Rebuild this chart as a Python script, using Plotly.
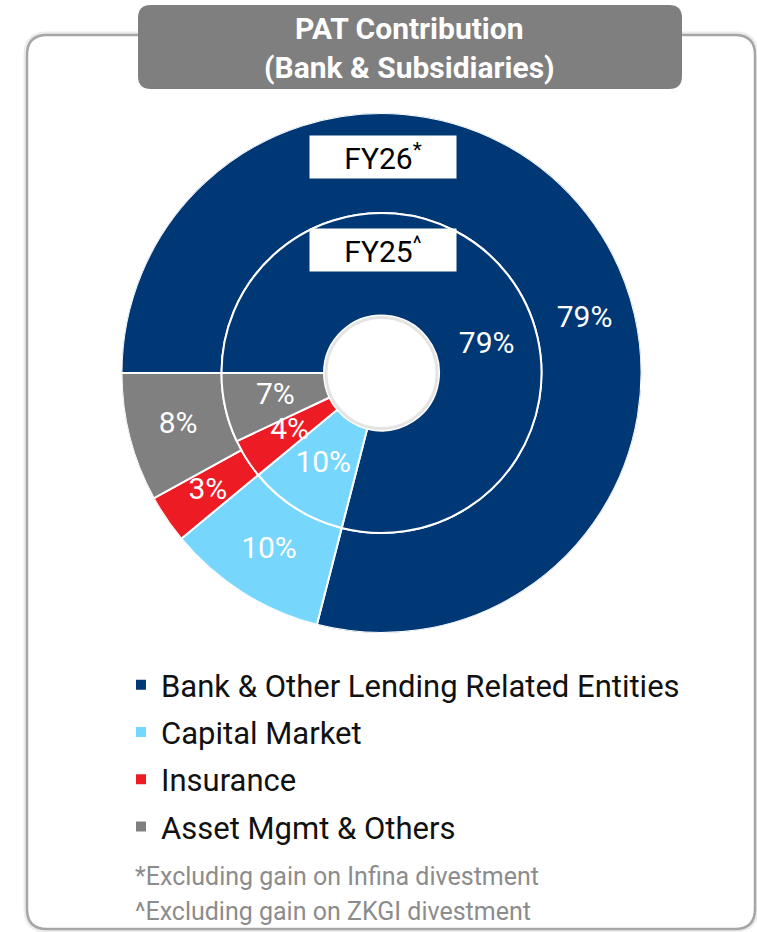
"""PAT contribution nested donut (FY26 outer, FY25 inner)."""

import plotly.graph_objects as go

W, H = 757, 932

categories = [
    "Bank & Other Lending Related Entities",
    "Capital Market",
    "Insurance",
    "Asset Mgmt & Others",
]
fy26_share = [79, 10, 3, 8]
fy25_share = [79, 10, 4, 7]
ring_labels = ["FY26<sup>*</sup>", "FY25<sup>^</sup>"]
footnotes = [
    "*Excluding gain on Infina divestment",
    "^Excluding gain on ZKGI divestment",
]

COLORS = ["#003876", "#76d6fc", "#ed1c24", "#808080"]
FONT = "Roboto"

# donut geometry in px
CX, CY = 381.5, 373
R_OUT, R_MID, R_HOLE = 260, 160, 57.5
START = 270       # first slice starts at 9 o'clock, going clockwise
BANK_NUDGE = 23   # bank % labels sit right of the FY boxes


def px(x):
    return x / W


def py(y):
    return 1 - y / H


def rounded_rect(x0, y0, x1, y1, r):
    pts = [
        f"M{px(x0 + r)},{py(y0)}", f"L{px(x1 - r)},{py(y0)}",
        f"Q{px(x1)},{py(y0)} {px(x1)},{py(y0 + r)}", f"L{px(x1)},{py(y1 - r)}",
        f"Q{px(x1)},{py(y1)} {px(x1 - r)},{py(y1)}", f"L{px(x0 + r)},{py(y1)}",
        f"Q{px(x0)},{py(y1)} {px(x0)},{py(y1 - r)}", f"L{px(x0)},{py(y0 + r)}",
        f"Q{px(x0)},{py(y0)} {px(x0 + r)},{py(y0)}", "Z",
    ]
    return " ".join(pts)


def slices(shares):
    mids, widths = [], []
    acc = START
    for s in shares:
        w = s * 3.6
        mids.append((acc + w / 2) % 360)
        widths.append(w)
        acc += w
    return mids, widths


out_mid, out_w = slices(fy26_share)
in_mid, in_w = slices(fy25_share)

hole = R_HOLE / R_OUT
ring = R_MID / R_OUT

fig = go.Figure()

for i, cat in enumerate(categories):
    fig.add_trace(go.Barpolar(
        r=[1 - ring, ring - hole],
        base=[ring, hole],
        theta=[out_mid[i], in_mid[i]],
        width=[out_w[i], in_w[i]],
        marker=dict(color=COLORS[i], line=dict(color="white", width=2)),
        name=cat,
        legendgroup=cat,
        hoverinfo="skip",
    ))

# percentage labels
lab_r, lab_t, lab_txt = [], [], []
for shares, mids, r in [(fy26_share, out_mid, (1 + ring) / 2),
                        (fy25_share, in_mid, (ring + hole) / 2)]:
    for i, s in enumerate(shares):
        lab_r.append(r)
        lab_t.append(mids[i] + (BANK_NUDGE if i == 0 else 0))
        lab_txt.append(f"{s}%")

fig.add_trace(go.Scatterpolar(
    r=lab_r, theta=lab_t, text=lab_txt, mode="text",
    textfont=dict(family=FONT, size=30, color="white"),
    showlegend=False, hoverinfo="skip",
))

shapes = [
    # card border with soft shadow
    dict(type="path", path=rounded_rect(27, 35, 755, 929, 20), xref="paper", yref="paper",
         line=dict(color="#ececec", width=7), layer="below"),
    dict(type="path", path=rounded_rect(27, 35, 755, 929, 20), xref="paper", yref="paper",
         line=dict(color="#a6a6a6", width=2.5), fillcolor="white", layer="below"),
    # title box
    dict(type="path", path=rounded_rect(138, 5, 682, 89, 13), xref="paper", yref="paper",
         line=dict(width=0), fillcolor="#7f7f7f"),
    # hole shading
    dict(type="circle", xref="paper", yref="paper",
         x0=px(CX - R_HOLE + 2), x1=px(CX + R_HOLE - 2),
         y0=py(CY + R_HOLE - 2), y1=py(CY - R_HOLE + 2),
         line=dict(color="#e4e4e4", width=3)),
]

annotations = [
    dict(text="<b>PAT Contribution<br>(Bank &amp; Subsidiaries)</b>", x=px(410), y=py(48),
         xref="paper", yref="paper", showarrow=False, xanchor="center", yanchor="middle",
         font=dict(family=FONT, size=30, color="white")),
]
for lbl, yc in zip(ring_labels, [157, 250]):
    annotations.append(dict(
        text=lbl, x=px(CX + 1), y=py(yc), xref="paper", yref="paper", showarrow=False,
        xanchor="center", yanchor="middle",
        width=144, height=40, bgcolor="white",
        font=dict(family=FONT, size=30, color="black"),
    ))
for note, yc in zip(footnotes, [876, 911]):
    annotations.append(dict(
        text=note, x=px(133), y=py(yc), xref="paper", yref="paper", showarrow=False,
        xanchor="left", yanchor="middle",
        font=dict(family=FONT, size=25, color="#8c8c8c"),
    ))

fig.update_layout(
    width=W, height=H,
    margin=dict(l=0, r=0, t=0, b=0),
    paper_bgcolor="white",
    polar=dict(
        domain=dict(x=[px(CX - R_OUT), px(CX + R_OUT)], y=[py(CY + R_OUT), py(CY - R_OUT)]),
        bgcolor="rgba(0,0,0,0)",
        bargap=0,
        radialaxis=dict(visible=False, range=[0, 1]),
        angularaxis=dict(visible=False, rotation=90, direction="clockwise"),
    ),
    legend=dict(
        x=px(121), y=py(658), xanchor="left", yanchor="top",
        font=dict(family=FONT, size=31, color="#111111"),
        tracegroupgap=4, itemwidth=30, bgcolor="rgba(0,0,0,0)",
    ),
    shapes=shapes,
    annotations=annotations,
)

fig.write_html("out.html", config={"displayModeBar": False},
               post_script="document.body.style.margin='0';")
